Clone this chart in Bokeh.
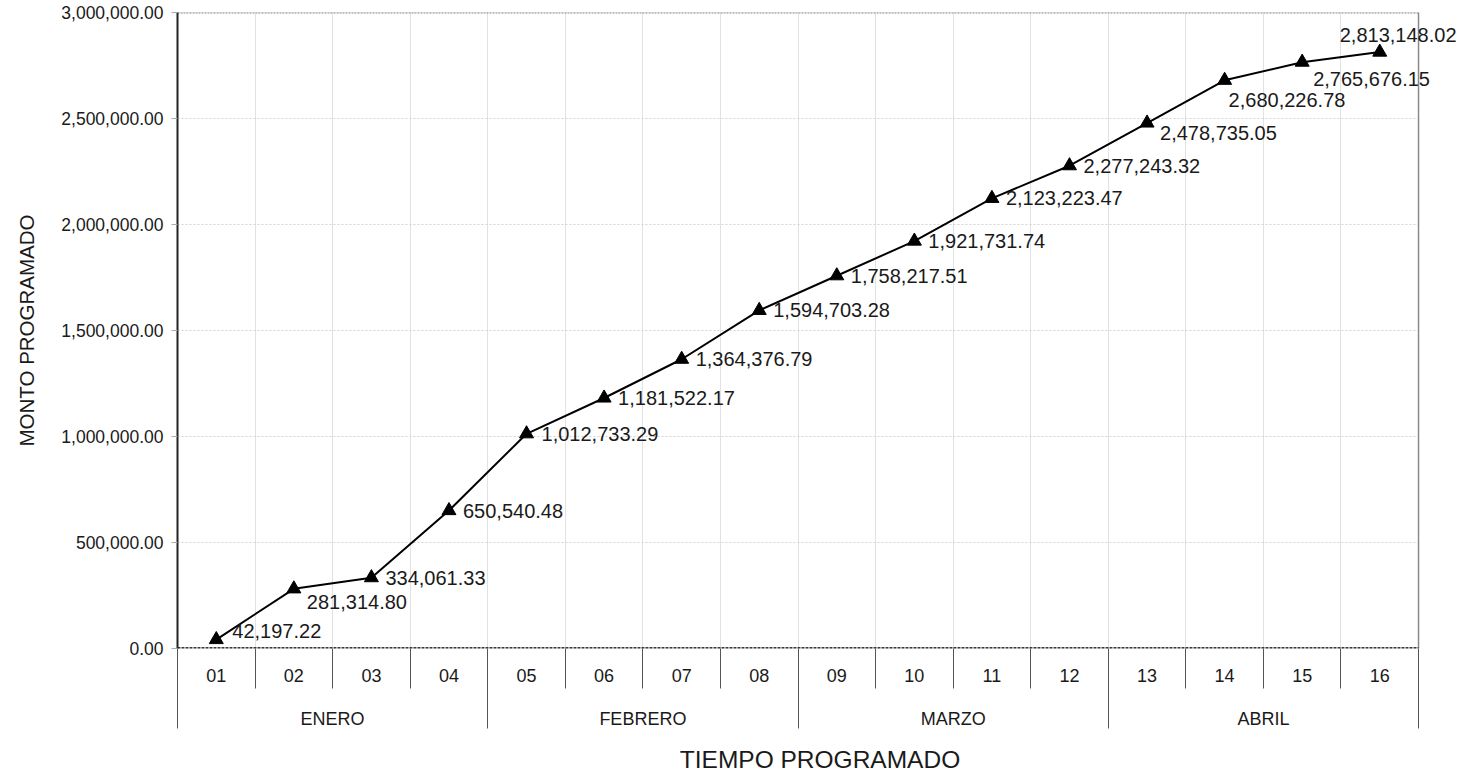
from bokeh.plotting import figure
from bokeh.models import (ColumnDataSource, FixedTicker, LinearAxis,
                          NumeralTickFormatter, LabelSet, Range1d)
from bokeh.core.properties import value
from bokeh.embed import file_html
from bokeh.resources import INLINE

# ---------------- data ----------------
WEEKS = ["01", "02", "03", "04", "05", "06", "07", "08",
         "09", "10", "11", "12", "13", "14", "15", "16"]
MONTHS = ["ENERO", "FEBRERO", "MARZO", "ABRIL"]
WEEKS_PER_MONTH = [4, 4, 4, 4]
MONTO = [42197.22, 281314.80, 334061.33, 650540.48,
         1012733.29, 1181522.17, 1364376.79, 1594703.28,
         1758217.51, 1921731.74, 2123223.47, 2277243.32,
         2478735.05, 2680226.78, 2765676.15, 2813148.02]
Y_TICKS = [0, 500000, 1000000, 1500000, 2000000, 2500000, 3000000]
X_TITLE = "TIEMPO PROGRAMADO"
Y_TITLE = "MONTO PROGRAMADO"

# label placement (pixel offsets, style only)
LABEL_DX = [16, 13, 14, 14, 15, 14, 14, 14, 14, 14, 14, 14, 13, 4, 11, -40]
LABEL_DY = [9, -13, 0, 0, 0, 0, 0, 0, 0, 0, 0, 0, -10, -20, -17, 17]

FONT = "Liberation Sans"
TXT = "#1a1a1a"
RIGHT_PAD = 0.567   # extra room (in weeks) right of the plot box for the last label

n = len(WEEKS)
xs = [i + 1 for i in range(n)]
week_bounds = [i + 0.5 for i in range(n + 1)]
month_bounds = [0.5]
month_centers = []
acc = 0
for k in WEEKS_PER_MONTH:
    month_centers.append(acc + 0.5 + k / 2)
    acc += k
    month_bounds.append(acc + 0.5)
x_lo, x_hi = 0.5, n + 0.5
y_lo, y_hi = Y_TICKS[0], Y_TICKS[-1]

p = figure(frame_width=1285, frame_height=636,
           x_range=Range1d(x_lo, x_hi + RIGHT_PAD), y_range=Range1d(y_lo, y_hi),
           output_backend="svg", toolbar_location=None,
           min_border_left=177, min_border_right=0,
           min_border_top=12, min_border_bottom=125,
           background_fill_color="white", border_fill_color="white")
p.outline_line_color = None

# grids
p.xgrid[0].ticker = FixedTicker(ticks=week_bounds[:-1])
p.xgrid[0].grid_line_color = "#e2e2e2"
p.ygrid[0].visible = False
p.segment(x0=[x_lo] * len(Y_TICKS), x1=[x_hi] * len(Y_TICKS),
          y0=Y_TICKS, y1=Y_TICKS, line_color="#d2d2d2", line_dash="2 2",
          line_width=1)
# plot box: top (dotted), right, bottom axis line
p.segment(x0=[x_lo], x1=[x_hi], y0=[y_hi], y1=[y_hi],
          line_color="#8a8a8a", line_dash="2 1", line_width=2)
p.segment(x0=[x_hi], x1=[x_hi], y0=[y_lo], y1=[y_hi],
          line_color="#8a8a8a", line_width=1.5)
p.segment(x0=[x_lo], x1=[x_hi], y0=[y_lo], y1=[y_lo],
          line_color="#3a3a3a", line_dash="3 1", line_width=3)

# y axis
ya = p.yaxis[0]
ya.ticker = FixedTicker(ticks=Y_TICKS)
ya.formatter = NumeralTickFormatter(format="0,0.00")
ya.major_label_text_font = FONT
ya.major_label_text_font_size = "17.5px"
ya.major_label_text_color = TXT
ya.major_label_standoff = 8
ya.major_tick_out = 6
ya.major_tick_in = 0
ya.major_tick_line_color = "#aaaaaa"
ya.minor_tick_line_color = None
ya.axis_line_color = "#222222"
ya.axis_line_width = 2
ya.axis_label = Y_TITLE
ya.axis_label_text_font = FONT
ya.axis_label_text_font_size = "20.5px"
ya.axis_label_text_font_style = "normal"
ya.axis_label_text_color = TXT
ya.axis_label_standoff = 20

# x axis, level 1: weeks
xa = p.xaxis[0]
xa.ticker = FixedTicker(ticks=xs, minor_ticks=week_bounds)
xa.major_label_overrides = {x: w for x, w in zip(xs, WEEKS)}
xa.major_tick_out = 0
xa.major_tick_in = 0
xa.minor_tick_out = 40
xa.minor_tick_in = 0
xa.minor_tick_line_color = "#555555"
xa.major_label_standoff = -20
xa.major_label_text_font = FONT
xa.major_label_text_font_size = "18px"
xa.major_label_text_color = TXT
xa.axis_line_color = None

# x axis, level 2: months
xm = LinearAxis(ticker=FixedTicker(ticks=month_centers, minor_ticks=month_bounds))
xm.major_label_overrides = {c: m for c, m in zip(month_centers, MONTHS)}
xm.major_tick_out = 0
xm.major_tick_in = 0
xm.minor_tick_out = 44
xm.minor_tick_in = 0
xm.minor_tick_line_color = "#555555"
xm.axis_line_color = None
xm.major_label_standoff = -20
xm.major_label_text_font = FONT
xm.major_label_text_font_size = "18px"
xm.major_label_text_color = TXT
xm.axis_label = X_TITLE
xm.axis_label_text_font = FONT
xm.axis_label_text_font_size = "24.5px"
xm.axis_label_text_font_style = "normal"
xm.axis_label_text_color = TXT
xm.axis_label_standoff = 14
p.add_layout(xm, "below")

src = ColumnDataSource(dict(x=xs, y=MONTO,
                            label=[f"{v:,.2f}" for v in MONTO],
                            dx=LABEL_DX, dy=LABEL_DY))
p.line("x", "y", source=src, line_color="black", line_width=2)
p.scatter("x", "y", source=src, marker="triangle", size=14,
          fill_color="black", line_color="black")

labels = LabelSet(x="x", y="y", text="label", source=src,
                  x_offset="dx", y_offset="dy",
                  text_font=value(FONT), text_font_size="20px",
                  text_color=TXT, text_baseline="middle", text_align="left")
p.add_layout(labels)

open("out.html", "w").write(file_html(p, INLINE))
